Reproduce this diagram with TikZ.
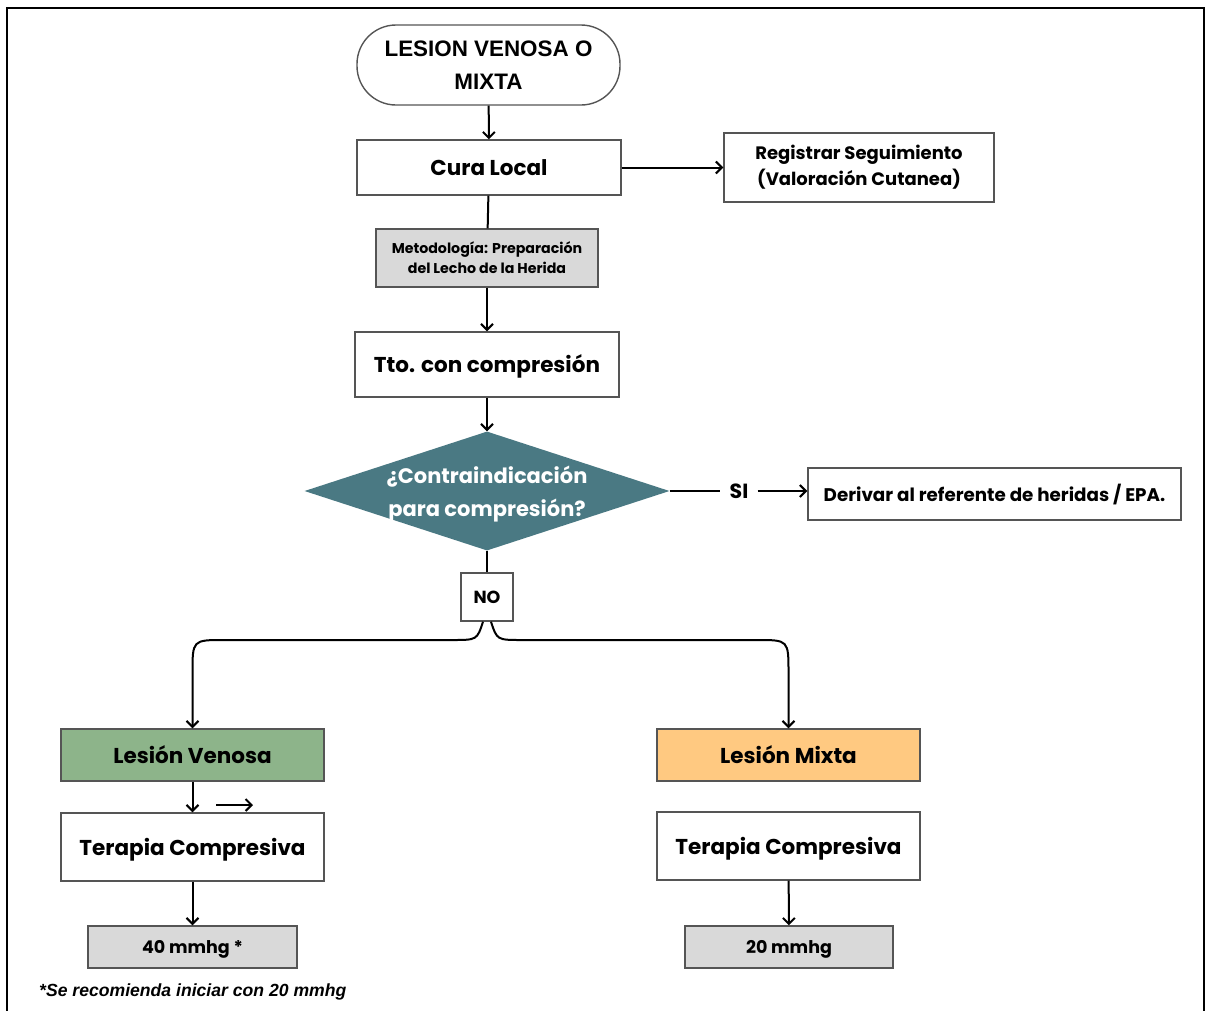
\documentclass[tikz,border=0pt]{standalone}
\usepackage{fontspec}
\setmainfont{Poppins}
\newfontfamily\arialf{Liberation Sans}
\usetikzlibrary{shapes.geometric,arrows.meta}
\definecolor{teal1}{HTML}{4A7983}
\definecolor{green1}{HTML}{8DB48A}
\definecolor{orange1}{HTML}{FFC981}
\definecolor{gray1}{HTML}{D9D9D9}
\definecolor{edge1}{HTML}{555555}
\tikzset{
  box/.style={draw=edge1, line width=1.4pt, fill=white, inner sep=0pt, align=center, font=\bfseries\fontsize{21.5}{26}\selectfont},
  oneline/.style={text height=#1, text depth=0pt},
  oneline/.default=16.5pt,
  conn/.style={line width=2pt, draw=black},
  arr/.style={conn, -{Straight Barb[length=6pt,width=12pt,line width=2pt]}},
}
\begin{document}
\begin{tikzpicture}[x=1pt,y=-1pt]
\useasboundingbox (0,0) rectangle (1206,1010);
\fill[white] (0,0) rectangle (1206,1010);
\draw[line width=2.6pt] (7,1015) -- (7,8) -- (1204,8) -- (1204,1015);

\node[box, rounded corners=39pt, minimum width=263, minimum height=80, font=\arialf\bfseries\fontsize{22.4}{33}\selectfont] (start) at (488.5,65) {LESION VENOSA O\\MIXTA};
\node[box, oneline, minimum width=264, minimum height=55] (cura) at (489,167.5) {Cura Local};
\node[box, minimum width=270, minimum height=69, font=\bfseries\fontsize{18}{26}\selectfont] (reg) at (859,167.5) {Registrar Seguimiento\\(Valoración Cutanea)};
\node[box, fill=gray1, minimum width=222, minimum height=58, font=\bfseries\fontsize{14.2}{20}\selectfont] (met) at (487,258) {Metodología: Preparación\\del Lecho de la Herida};
\node[box, oneline, minimum width=264, minimum height=65] (tto) at (487,364.5) {Tto. con compresión};
\node[diamond, fill=teal1, draw=none, minimum width=365, minimum height=119, inner sep=0pt] (q) at (487,491) {};
\node[text=white, align=center, font=\bfseries\fontsize{21}{33}\selectfont] (qt) at ([yshift=-3pt]q.center) {¿Contraindicación\\para compresión?};
\node[inner sep=9pt, oneline=15pt, font=\bfseries\fontsize{20.5}{24}\selectfont] (si) at (739,491) {SI};
\node[box, oneline=14pt, minimum width=373, minimum height=52, font=\bfseries\fontsize{18.3}{22}\selectfont] (der) at (994.5,494) {Derivar al referente de heridas / EPA.};
\node[box, oneline=13pt, minimum width=52, minimum height=48, font=\bfseries\fontsize{17.5}{20}\selectfont] (no) at (487,597) {NO};
\node[box, oneline, fill=green1, minimum width=263, minimum height=52] (ven) at (192.5,755) {Lesión Venosa};
\node[box, oneline, fill=orange1, minimum width=263, minimum height=52] (mix) at (788.5,755) {Lesión Mixta};
\node[box, oneline, minimum width=263, minimum height=68] (ter1) at (192.5,847) {Terapia Compresiva};
\node[box, oneline, minimum width=263, minimum height=68] (ter2) at (788.5,846) {Terapia Compresiva};
\node[box, oneline=13.5pt, fill=gray1, minimum width=209, minimum height=42, font=\bfseries\fontsize{17.5}{20}\selectfont] (m40) at (192.5,947) {40 mmhg *};
\node[box, oneline=13.5pt, fill=gray1, minimum width=208, minimum height=42, font=\bfseries\fontsize{17.5}{20}\selectfont] (m20) at (789,947) {20 mmhg};
\node[anchor=west, inner sep=0pt, font=\arialf\bfseries\itshape\fontsize{17.6}{20}\selectfont] (foot) at (39,992) {*Se recomienda iniciar con 20 mmhg};

\coordinate (nl) at ([xshift=-4pt]no.south);
\coordinate (nr) at ([xshift=4pt]no.south);
\coordinate (sa) at (216,805);
\coordinate (sb) at (253,805);

\draw[arr] (start) -- (cura);
\draw[arr] (cura) -- (reg);
\draw[conn] (cura) -- (met);
\draw[arr] (met) -- (tto);
\draw[arr] (tto) -- (q);
\draw[conn] (q.east) -- (si.west);
\draw[arr] (si.east) -- (si.east -| der.west);
\draw[conn] (q.south) -- (no.north);
\draw[arr] (nl) .. controls (477,640) .. (452,640) -- (224,640) .. controls (192.5,640) .. (192.5,673) -- (ven.north);
\draw[arr] (nr) .. controls (497,640) .. (522,640) -- (757,640) .. controls (788.5,640) .. (788.5,673) -- (mix.north);
\draw[arr] (ven) -- (ter1);
\draw[arr] (sa) -- (sb);
\draw[arr] (ter1) -- (m40);
\draw[arr] (ter2) -- (m20);
\end{tikzpicture}
\end{document}
